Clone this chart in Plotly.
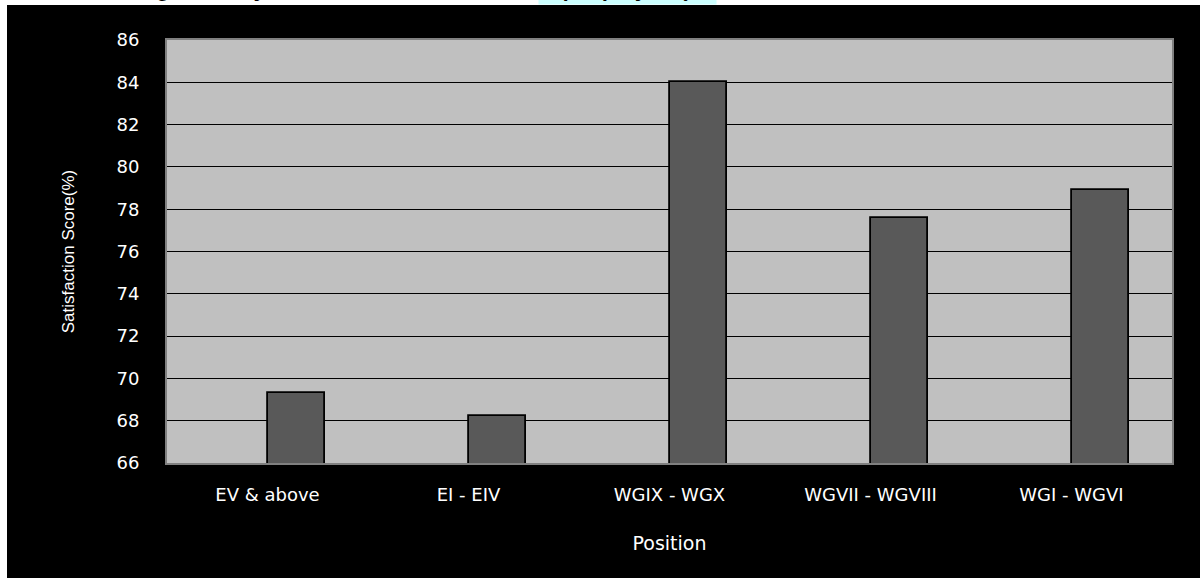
import plotly.graph_objects as go

# Satisfaction score by position level
positions = ["EV & above", "EI - EIV", "WGIX - WGX", "WGVII - WGVIII", "WGI - WGVI"]
scores = [69.3, 68.2, 84.0, 77.6, 78.9]

y_ticks = list(range(66, 87, 2))

title_main = "Satisfaction Score Categorized by the Level of the Position "
title_tag = "(Employees)"

W, H = 1200, 578
M_L, M_R, M_T, M_B = 167, 28, 40, 115
PW = W - M_L - M_R
PH = H - M_T - M_B


def px_x(px):
    return (px - M_L) / PW


def px_y(py):
    return (H - M_B - py) / PH


fig = go.Figure()
fig.add_trace(
    go.Bar(
        x=positions,
        y=scores,
        width=0.285,
        offset=0,
        marker=dict(color="#595959", line=dict(color="#000000", width=1.8)),
        hoverinfo="x+y",
    )
)

fig.update_layout(
    width=W,
    height=H,
    margin=dict(l=M_L, r=M_R, t=M_T, b=M_B),
    paper_bgcolor="#000000",
    plot_bgcolor="#c0c0c0",
    showlegend=False,
    bargap=0,
    xaxis=dict(
        showline=True,
        linecolor="#808080",
        linewidth=2,
        mirror=True,
        showgrid=False,
        ticks="",
        tickfont=dict(family="DejaVu Sans", size=18, color="#ffffff"),
        ticklabelstandoff=14,
        title=dict(
            text="Position",
            font=dict(family="DejaVu Sans", size=19, color="#ffffff"),
            standoff=33,
        ),
    ),
    yaxis=dict(
        range=[66, 86],
        tickvals=y_ticks,
        showline=True,
        linecolor="#808080",
        linewidth=2,
        mirror=True,
        showgrid=True,
        gridcolor="#000000",
        gridwidth=1,
        zeroline=False,
        ticks="",
        tickfont=dict(family="DejaVu Sans", size=18, color="#ffffff"),
        ticklabelstandoff=22,
        title=dict(
            text="Satisfaction Score(%)",
            font=dict(family="Liberation Sans", size=17, color="#ffffff"),
            standoff=38,
        ),
    ),
    shapes=[
        # white page strip along the top edge
        dict(type="rect", xref="paper", yref="paper",
             x0=-0.3, x1=1.3, y0=px_y(5), y1=px_y(-20),
             fillcolor="#ffffff", line=dict(width=0), layer="above"),
        # white page strip along the left edge
        dict(type="rect", xref="paper", yref="paper",
             x0=-0.3, x1=px_x(7), y0=-0.5, y1=1.3,
             fillcolor="#ffffff", line=dict(width=0), layer="above"),
    ],
    annotations=[
        dict(text=title_main, xref="paper", yref="paper",
             x=px_x(538), y=px_y(5), xanchor="right", yanchor="bottom",
             showarrow=False, borderpad=3,
             font=dict(family="Liberation Sans", size=22, color="#000000",
                       style="italic", weight="bold")),
        dict(text=title_tag, xref="paper", yref="paper",
             x=px_x(538), y=px_y(5), xanchor="left", yanchor="bottom",
             showarrow=False, borderpad=3, width=171, bgcolor="#ccffff",
             font=dict(family="Liberation Sans", size=22, color="#000000",
                       style="italic", weight="bold")),
    ],
)

fig.write_html("out.html")
